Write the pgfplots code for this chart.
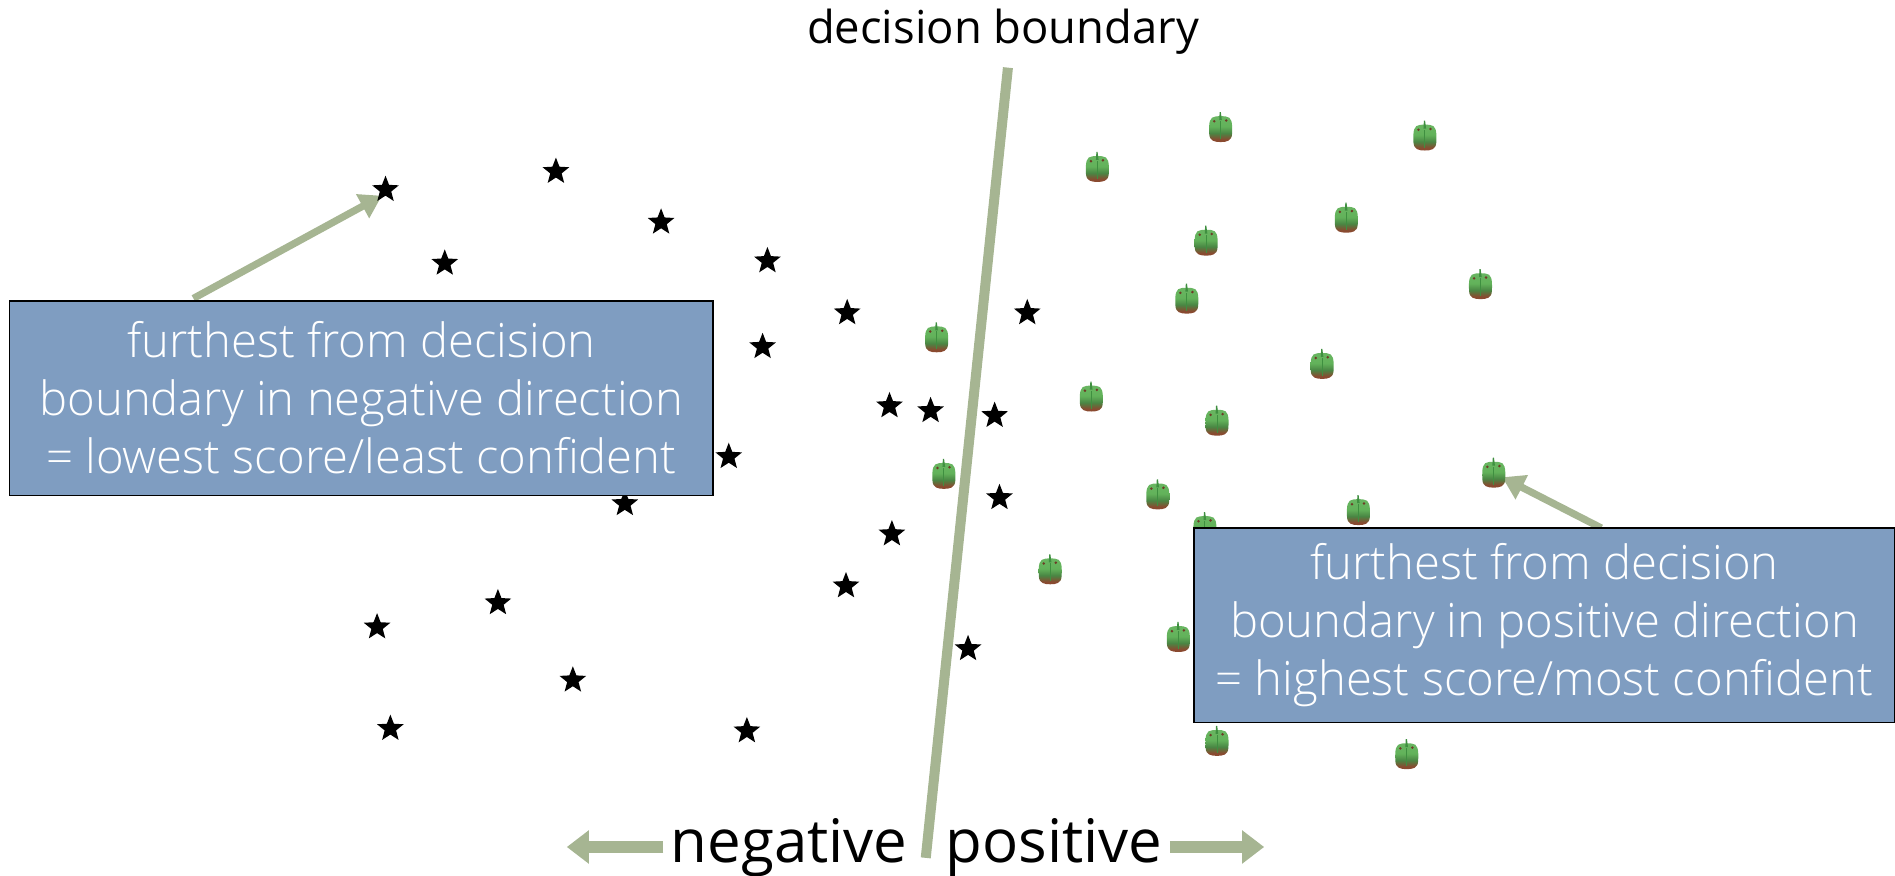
\documentclass[border=0pt]{standalone}
\usepackage{fontspec}
\setmainfont{Open Sans}
\newfontfamily\lightfont[UprightFont={* Light}]{Open Sans}
\usepackage{pgfplots}
\pgfplotsset{compat=1.18}
\usetikzlibrary{arrows.meta}
\definecolor{sage}{HTML}{A6B592}
\definecolor{boxblue}{HTML}{7F9DC1}
\definecolor{pgreen}{HTML}{62B25A}
\definecolor{pdark}{HTML}{3F8F40}
\definecolor{pbrown}{HTML}{8A4A30}
\pgfdeclareverticalshading{pep}{100bp}{color(0bp)=(pbrown); color(30bp)=(pbrown); color(42bp)=(pgreen!75!black); color(55bp)=(pgreen); color(100bp)=(pgreen!90!white)}
\pgfdeclareplotmark{fstar}{%
  \path[fill=black,draw=none] (90:7pt) -- (126:3pt) -- (162:7pt) -- (198:3pt) -- (234:7pt) -- (270:3pt) -- (306:7pt) -- (342:3pt) -- (18:7pt) -- (54:3pt) -- cycle;}
\pgfdeclareplotmark{pepper}{%
  \path[shading=pep,draw=none] (-5.7pt,-3pt) .. controls (-6pt,3pt) and (-5.5pt,5.6pt) .. (-2.5pt,5.8pt) .. controls (-1pt,6pt) and (1pt,6pt) .. (2.5pt,5.8pt) .. controls (5.5pt,5.6pt) and (6pt,3pt) .. (5.7pt,-3pt) .. controls (5.5pt,-6.5pt) and (3pt,-7pt) .. (0pt,-7pt) .. controls (-3pt,-7pt) and (-5.5pt,-6.5pt) .. (-5.7pt,-3pt) -- cycle;
  \draw[pdark, line width=0.5pt] (0pt,-5.5pt) -- (0pt,3.5pt);
  \path[fill=pbrown!80!black,draw=none] (-3.2pt,3.4pt) circle (0.7pt) (2.8pt,3.8pt) circle (0.7pt);
  \path[fill=pdark,draw=none] (-0.7pt,4pt) -- (-0.5pt,8pt) -- (0.1pt,8pt) -- (0.6pt,4pt) -- cycle;}
\begin{document}
\begin{tikzpicture}
\begin{axis}[
  set layers=standard,
  hide axis, scale only axis, width=947.5pt, height=438pt,
  xmin=0, xmax=1568, ymin=0, ymax=725, y dir=reverse, clip=false,
  every axis plot/.append style={forget plot}]
% decision boundary
\addplot[sage, line width=5pt] coordinates {(834,56) (766,710)};
% stars
\addplot[only marks, mark=fstar] coordinates {
(319,157)(460,142)(547,184)(368,218)(635,216)(701,259)(631,287)(850,259)
(736,336)(770,340)(823,344)(603,378)(517,417)(827,412)(738,442)(700,485)
(412,499)(312,519)(801,537)(474,563)(323,603)(618,605)};
% peppers
\addplot[only marks, mark=pepper] coordinates {
(908,139)(1010,106)(1179,113)(1114,181)(998,200)(982,248)(1225,236)(775,280)
(1094,302)(903,329)(1007,349)(781,393)(1236,392)(958,410)(1124,423)(997,437)
(869,472)(975,528)(1007,614)(1164,625)};
% arrows
\addplot[sage, line width=3.6pt, -{Triangle[length=11pt,width=13pt]}] coordinates {(160,247) (316,162)};
\addplot[sage, line width=3.6pt, -{Triangle[length=11pt,width=13pt]}] coordinates {(1325,437) (1243,395)};
\addplot[sage, line width=6pt, -{Triangle[length=11pt,width=16pt]}] coordinates {(549,701) (469,701)};
\addplot[sage, line width=6pt, -{Triangle[length=11pt,width=16pt]}] coordinates {(968,701) (1046,701)};
% texts
\begin{pgfonlayer}{axis foreground}
\node[font=\fontsize{22.7}{27}\selectfont, anchor=center] at (axis cs:830,26) {decision boundary};
\node[font=\fontsize{30}{36}\selectfont, anchor=base] at (axis cs:653,714) {negative};
\node[font=\fontsize{30}{36}\selectfont, anchor=base] at (axis cs:872,714) {positive};
\node[draw=black, line width=0.8pt, fill=boxblue, text=white, inner sep=0pt, minimum width=351.7pt, minimum height=97.3pt, font=\lightfont\fontsize{23.6}{29}\selectfont, align=center, anchor=center] at (axis cs:299,329.5) {furthest from decision\\boundary in negative direction\\= lowest score/least confident};
\node[draw=black, line width=0.8pt, fill=boxblue, text=white, inner sep=0pt, minimum width=350.5pt, minimum height=97.3pt, font=\lightfont\fontsize{23.6}{29}\selectfont, align=center, anchor=center] at (axis cs:1278,517.5) {furthest from decision\\boundary in positive direction\\= highest score/most confident};
\end{pgfonlayer}
\end{axis}
\pgfresetboundingbox
\path[use as bounding box] (0pt,0pt) rectangle (947.5pt,438pt);
\end{tikzpicture}
\end{document}
